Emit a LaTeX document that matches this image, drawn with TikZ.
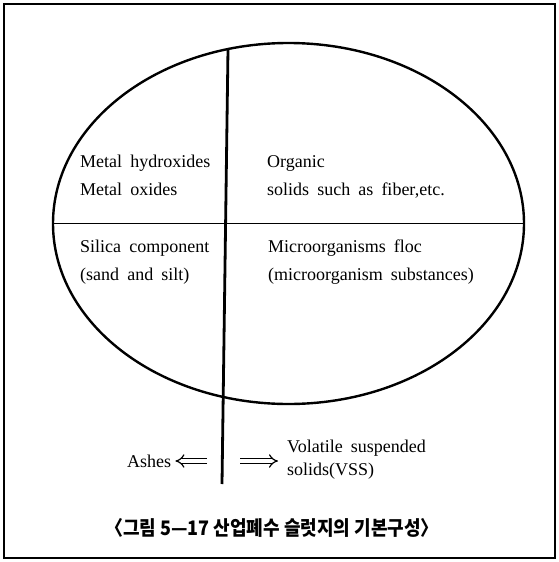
\documentclass[tikz,border=0pt]{standalone}
\usepackage{fontspec}
\setmainfont[WordSpace=1.8]{Liberation Serif}
\newfontfamily\kor[FakeStretch=0.9]{Noto Sans CJK KR}
\usetikzlibrary{arrows.meta,positioning,shapes.geometric}
\tikzset{lbl/.style={font=\fontsize{18}{28}\selectfont,inner sep=0pt,align=left,anchor=north west},
  frame/.style={line width=1.5pt},
  blob/.style={ellipse,draw,line width=2.4pt,inner sep=0pt,outer sep=0pt,minimum width=471pt,minimum height=361pt},
  split/.style={line width=1.3pt},
  axis/.style={line width=2.8pt},
  dbl/.style={double,double distance=3.4pt,line width=1.2pt,-{Implies}}}

\begin{document}
\begin{tikzpicture}[x=1pt,y=-1pt]
\useasboundingbox (0,0) rectangle (559,562);
\draw[frame] (4,4) rectangle (555,558);
% the sludge body
\node[blob] (sludge) at (288.5,223.5) {};
\draw[split] (sludge.west) -- (sludge.east);
\coordinate (vtop) at (228,49);
\coordinate (vbot) at (222,484);
\draw[axis] (vtop) -- (vbot);
% four parts
\node[lbl] (metal) at (80,155) {Metal hydroxides\\Metal oxides};
\node[lbl] (organic) at (267,155) {Organic\\solids such as fiber,etc.};
\node[lbl] (silica) at (80,240) {Silica component\\(sand and silt)};
\node[lbl] (micro) at (268,240) {Microorganisms floc\\(microorganism substances)};
% ash / volatile split
\node[lbl,anchor=base west] (ashes) at (127,467) {Ashes};
\node[lbl,font=\fontsize{18}{23}\selectfont] (vss) at (287,440) {Volatile suspended\\solids(VSS)};
\coordinate (lt) at (207,461);
\coordinate (rt) at (240,461);
\draw[dbl,shorten >=4pt] (lt) -- (lt -| ashes.east);
\draw[dbl,shorten >=9pt] (rt) -- (rt -| vss.west);
\node[font=\kor\bfseries\fontsize{20}{20}\selectfont,inner sep=0pt] (cap) at (272,528) {〈그림 5—17 산업폐수 슬럿지의 기본구성〉};
\end{tikzpicture}
\end{document}
